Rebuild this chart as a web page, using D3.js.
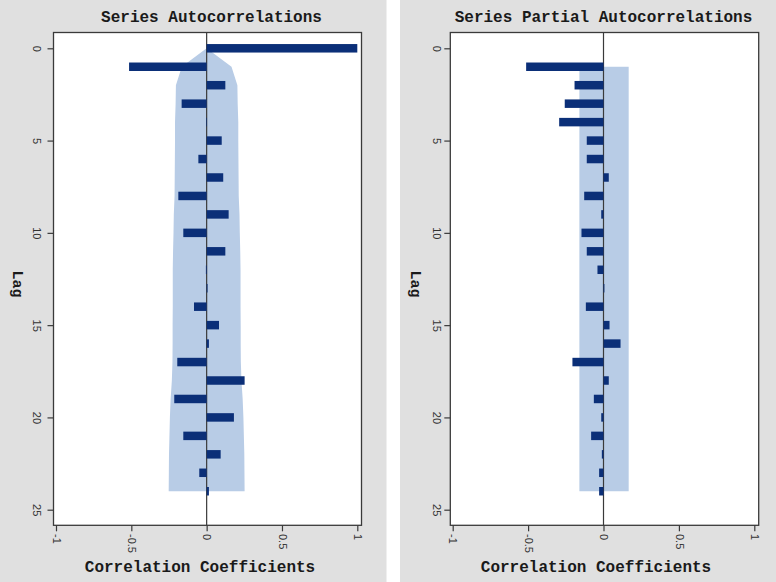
<!DOCTYPE html>
<html><head><meta charset="utf-8">
<script src="https://cdn.jsdelivr.net/npm/d3@7"></script>
<style>body{margin:0;background:#fff}</style>
</head><body>
<svg id="c" width="776" height="582"></svg>
<script>
// ---- data ----
const acfLags = [0,1,2,3,4,5,6,7,8,9,10,11,12,13,14,15,16,17,18,19,20,21,22,23,24];
const acfValues = [1.0,-0.515,0.124,-0.166,-0.004,0.10,-0.055,0.11,-0.188,0.146,-0.155,0.124,-0.005,0.006,-0.084,0.082,0.015,-0.195,0.252,-0.215,0.181,-0.155,0.093,-0.049,0.015];
const acfBand = [0,0.165,0.204,0.206,0.210,0.210,0.211,0.212,0.213,0.218,0.220,0.223,0.225,0.225,0.225,0.226,0.226,0.227,0.231,0.239,0.244,0.247,0.250,0.251,0.252];
const pacfLags = [1,2,3,4,5,6,7,8,9,10,11,12,13,14,15,16,17,18,19,20,21,22,23,24];
const pacfValues = [-0.513,-0.192,-0.257,-0.294,-0.111,-0.111,0.035,-0.128,-0.015,-0.146,-0.111,-0.04,0.006,-0.117,0.04,0.113,-0.206,0.035,-0.064,-0.015,-0.082,-0.011,-0.029,-0.029];
const pacfBandLow = -0.16;
const pacfBandHigh = 0.167;
const xTicks = [-1,-0.5,0,0.5,1];
const xTickLabels = ["-1","-0.5","0","0.5","1"];
const yTicks = [0,5,10,15,20,25];
const titles = ["Series Autocorrelations","Series Partial Autocorrelations"];
const xTitle = "Correlation Coefficients";
const yTitle = "Lag";

// ---- drawing ----
const svg = d3.select("#c");
const GRAY = "#e0e0e0", BAR = "#0b2f78", BAND = "#b8cce6", LINE = "#3a3a3a";
const MONO = "'Liberation Mono','DejaVu Sans Mono',monospace";
const SANS = "'Liberation Sans',Arial,sans-serif";

svg.append("rect").attr("x",0).attr("y",0).attr("width",386.5).attr("height",582).attr("fill",GRAY);
svg.append("rect").attr("x",400).attr("y",0).attr("width",376).attr("height",582).attr("fill",GRAY);

function panel(cfg){
  const g = svg.append("g");
  const x = d3.scaleLinear().domain([-1,1]).range(cfg.xr);
  const y = d3.scaleLinear().domain([0,25]).range([48.3,509.7]);
  const f = cfg.frame; // [left, top, right, bottom]
  g.append("rect").attr("x",f[0]).attr("y",f[1]).attr("width",f[2]-f[0]).attr("height",f[3]-f[1])
    .attr("fill","#fff");
  // band
  if (cfg.band) {
    const area = d3.area().x0(d=>x(-d.hw)).x1(d=>x(d.hw)).y(d=>y(d.lag));
    g.append("path").datum(cfg.band).attr("d",area).attr("fill",BAND);
  }
  if (cfg.rectBand) {
    const rb = cfg.rectBand;
    g.append("rect").attr("x",x(rb.lo)).attr("width",x(rb.hi)-x(rb.lo))
      .attr("y",y(rb.from)).attr("height",y(rb.to)-y(rb.from)).attr("fill",BAND);
  }
  // zero line
  g.append("line").attr("x1",x(0)).attr("x2",x(0)).attr("y1",f[1]).attr("y2",f[3])
    .attr("stroke",LINE).attr("stroke-width",1.2);
  // bars
  const h = (y(1)-y(0))*0.46;
  g.selectAll("rect.bar").data(cfg.data).enter().append("rect").attr("class","bar")
    .attr("x",d=>x(Math.min(0,d.v))).attr("width",d=>Math.abs(x(d.v)-x(0)))
    .attr("y",d=>y(d.lag)-h/2).attr("height",h).attr("fill",BAR);
  // frame
  g.append("rect").attr("x",f[0]).attr("y",f[1]).attr("width",f[2]-f[0]).attr("height",f[3]-f[1])
    .attr("fill","none").attr("stroke",LINE).attr("stroke-width",1.3);
  // y axis
  const ya = g.append("g").attr("transform",`translate(${f[0]},0)`)
    .call(d3.axisLeft(y).tickValues(yTicks).tickSize(6).tickFormat(d=>String(d)));
  ya.select(".domain").remove();
  ya.selectAll(".tick line").attr("stroke",LINE).attr("stroke-width",1.2);
  ya.selectAll("text").attr("x",0).attr("y",0).attr("dy",null).attr("text-anchor","middle")
    .attr("transform",`translate(${-cfg.yLabOff},0) rotate(90)`)
    .attr("fill","#333").style("font-size","11px").style("font-family",SANS);
  // x axis
  const xa = g.append("g").attr("transform",`translate(0,${f[3]})`)
    .call(d3.axisBottom(x).tickValues(xTicks).tickSize(6).tickFormat((d,i)=>xTickLabels[i]));
  xa.select(".domain").remove();
  xa.selectAll(".tick line").attr("stroke",LINE).attr("stroke-width",1.2);
  xa.selectAll("text").attr("x",0).attr("y",0).attr("dy",null).attr("text-anchor","start")
    .attr("transform","translate(-3.8,8.7) rotate(90)")
    .attr("fill","#333").style("font-size","11px").style("font-family",SANS);
  // titles
  g.append("text").attr("x",cfg.titleX).attr("y",21.5).attr("text-anchor","middle")
    .style("font-family",MONO).style("font-weight","bold").style("font-size","16px")
    .attr("fill","#1a1a1a").text(cfg.title);
  g.append("text").attr("x",cfg.xTitleX).attr("y",571.5).attr("text-anchor","middle")
    .style("font-family",MONO).style("font-weight","bold").style("font-size","16px")
    .attr("fill","#1a1a1a").text(xTitle);
  g.append("text").attr("transform",`translate(${cfg.lagX},284) rotate(90)`).attr("text-anchor","middle")
    .style("font-family",MONO).style("font-weight","bold").style("font-size","15px")
    .attr("fill","#1a1a1a").text(yTitle);
}

panel({
  xr:[56,357.3], frame:[53.5,32.5,361.5,525.3], yLabOff:20.2,
  band: acfLags.map((l,i)=>({lag:l,hw:acfBand[i]})),
  data: acfLags.map((l,i)=>({lag:l,v:acfValues[i]})),
  title:titles[0], titleX:211.5, xTitleX:200, lagX:12.5
});
panel({
  xr:[452.7,754.3], frame:[450.3,32.5,758.7,525.3], yLabOff:17.8,
  rectBand:{lo:pacfBandLow,hi:pacfBandHigh,from:pacfLags[0],to:pacfLags[pacfLags.length-1]},
  data: pacfLags.map((l,i)=>({lag:l,v:pacfValues[i]})),
  title:titles[1], titleX:603.5, xTitleX:596, lagX:410.5
});
</script>
</body></html>
